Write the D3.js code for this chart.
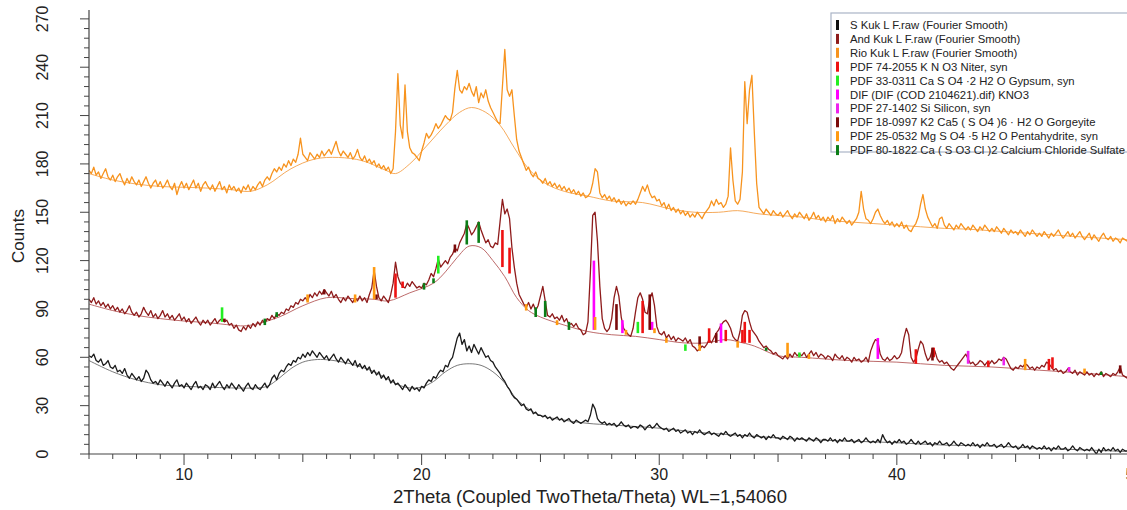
<!DOCTYPE html>
<html>
<head>
<meta charset="utf-8" />
<title>XRD Kuk L F</title>
<script src="https://d3js.org/d3.v7.min.js"></script>
<style>
  body { margin: 0; background: #fff; }
  svg text { font-family: "Liberation Sans", Arial, sans-serif; fill: #222; }
</style>
</head>
<body>
<svg id="chart"></svg>
<script>
// raw scans, 2theta from 6.0 in steps of 0.1
var thetaStart = 6, thetaStep = 0.1

var sKuk = [
  61, 60, 62, 58, 57, 59, 55, 56, 58, 54,
  53, 55, 51, 52, 50, 53, 49, 47, 50, 48,
  46, 48, 45, 47, 52, 50, 46, 44, 45, 43,
  46, 44, 42, 45, 43, 41, 44, 46, 42, 43,
  41, 44, 42, 40, 43, 45, 41, 42, 40, 43,
  42, 40, 44, 41, 43, 45, 42, 40, 43, 41,
  44, 42, 40, 43, 41, 39, 42, 44, 41, 40,
  43, 41, 40, 42, 44, 41, 43, 47, 49, 46,
  50, 52, 51, 54, 56, 55, 58, 57, 60, 59,
  62, 60, 63, 61, 64, 62, 60, 63, 61, 59,
  61, 58, 60, 62, 59, 57, 60, 58, 56, 59,
  57, 55, 58, 54, 56, 53, 55, 52, 54, 50,
  52, 49, 51, 47, 49, 46, 48, 44, 46, 43,
  44, 42, 40, 43, 41, 39, 42, 40, 41, 39,
  42, 41, 44, 46, 45, 48, 47, 50, 52, 51,
  55, 54, 58, 60, 66, 72, 75, 68, 71, 64,
  67, 63, 68, 65, 62, 66, 63, 60, 61, 58,
  57, 54, 52, 50, 47, 45, 42, 40, 37, 35,
  34, 32, 30, 31, 28, 27, 28, 25, 26, 24,
  24, 23, 24, 22, 23, 21, 22, 23, 21, 22,
  20, 21, 22, 20, 19, 21, 20, 19, 20, 21,
  20, 24, 31, 28, 22, 20, 19, 20, 18, 19,
  18, 19, 17, 18, 20, 18, 17, 18, 16, 17,
  17, 16, 18, 17, 15, 17, 18, 16, 17, 19,
  17, 16, 15, 16, 14, 15, 16, 14, 15, 13,
  14, 15, 13, 14, 12, 14, 13, 15, 13, 12,
  13, 14, 12, 13, 12, 11, 13, 12, 14, 12,
  11, 12, 13, 11, 12, 10, 12, 11, 13, 11,
  10, 12, 11, 10, 11, 9, 11, 10, 12, 10,
  10, 9, 11, 10, 9, 11, 10, 8, 10, 9,
  10, 9, 8, 10, 9, 8, 10, 9, 7, 9,
  9, 8, 10, 8, 9, 7, 9, 8, 10, 8,
  8, 9, 7, 8, 9, 7, 8, 10, 8, 7,
  8, 7, 9, 7, 12, 9, 7, 8, 6, 8,
  7, 9, 7, 8, 6, 7, 9, 7, 6, 8,
  6, 7, 8, 6, 7, 5, 7, 6, 8, 6,
  6, 7, 5, 6, 8, 6, 5, 7, 6, 5,
  6, 5, 7, 5, 6, 4, 6, 5, 7, 5,
  5, 6, 4, 5, 6, 4, 5, 7, 5, 4,
  5, 3, 4, 6, 4, 5, 3, 5, 4, 3,
  4, 3, 5, 3, 4, 2, 4, 3, 5, 3,
  3, 4, 2, 3, 5, 3, 2, 4, 3, 2,
  3, 2, 4, 2, 0, 3, 1, 4, 2, 3,
  2, 4, 2, 3, 1, 3, 2, 2
]

var andKuk = [
  96, 94, 97, 93, 95, 92, 94, 91, 93, 90,
  92, 89, 91, 88, 90, 87, 89, 92, 88, 86,
  88, 85, 87, 91, 88, 86, 89, 85, 87, 84,
  86, 89, 85, 87, 84, 86, 83, 85, 87, 83,
  85, 82, 84, 81, 83, 85, 82, 80, 83, 81,
  83, 80, 82, 84, 81, 83, 84, 82, 83, 80,
  81, 78, 80, 77, 76, 79, 77, 80, 78, 81,
  79, 82, 80, 83, 81, 84, 83, 86, 84, 87,
  86, 88, 87, 90, 89, 92, 91, 94, 93, 96,
  95, 97, 95, 99, 97, 100, 98, 101, 99, 102,
  100, 98, 101, 97, 99, 96, 94, 97, 95, 98,
  96, 94, 97, 95, 98, 95, 97, 94, 99, 103,
  114, 104, 97, 95, 98, 96, 94, 99, 106, 119,
  110, 106, 104, 103, 106, 104, 107, 105, 103, 104,
  103, 106, 105, 108, 112, 110, 115, 121, 116, 118,
  120, 118, 122, 124, 128, 126, 131, 134, 137, 143,
  140, 136, 138, 141, 144, 139, 135, 131, 133, 129,
  128, 131, 130, 144, 158, 149, 152, 146, 128, 116,
  106, 99, 96, 93, 91, 94, 90, 93, 89, 92,
  98, 104, 95, 86, 85, 87, 84, 85, 83, 86,
  82, 84, 80, 81, 79, 81, 78, 77, 74, 75,
  82, 112, 148, 150, 132, 104, 84, 78, 76, 78,
  84, 97, 104, 98, 85, 78, 76, 74, 73, 78,
  88, 97, 100, 96, 88, 87, 96, 100, 92, 79,
  75, 74, 76, 72, 74, 71, 73, 70, 72, 71,
  70, 72, 69, 71, 67, 66, 64, 65, 67, 66,
  68, 71, 69, 72, 75, 77, 80, 82, 83, 81,
  78, 73, 71, 70, 76, 86, 89, 88, 82, 77,
  75, 73, 70, 68, 66, 67, 65, 64, 62, 63,
  61, 60, 59, 61, 59, 62, 60, 63, 61, 62,
  61, 63, 60, 62, 64, 61, 63, 60, 62, 61,
  59, 61, 60, 58, 62, 60, 59, 61, 58, 60,
  59, 57, 60, 58, 59, 57, 58, 60, 57, 64,
  68, 71, 70, 62, 59, 58, 60, 58, 59, 61,
  59, 60, 63, 72, 78, 74, 60, 57, 59, 65,
  70, 68, 62, 58, 60, 65, 64, 59, 57, 58,
  56, 57, 55, 53, 52, 54, 56, 58, 60, 62,
  59, 56, 57, 55, 56, 58, 57, 55, 57, 56,
  58, 56, 57, 59, 58, 60, 59, 56, 53, 52,
  54, 53, 55, 54, 56, 55, 53, 54, 52, 54,
  53, 55, 54, 57, 56, 54, 52, 53, 51, 52,
  50, 51, 53, 51, 50, 52, 49, 51, 50, 49,
  51, 49, 50, 48, 50, 49, 51, 48, 50, 49,
  48, 50, 49, 51, 54, 49, 48, 47
]

var rioKuk = [
  176, 174, 178, 173, 175, 171, 174, 177, 172, 170,
  173, 169, 172, 174, 170, 167, 171, 168, 172, 169,
  167, 170, 166, 169, 172, 168, 165, 168, 170, 166,
  169, 165, 167, 170, 166, 164, 168, 161, 166, 169,
  165, 168, 164, 167, 170, 165, 168, 163, 167, 169,
  166, 164, 167, 163, 166, 169, 164, 166, 162, 167,
  164, 166, 163, 165, 162, 166, 164, 167, 163, 166,
  164, 167, 169, 166, 170, 172, 170, 174, 177, 175,
  178, 176, 180, 178, 182, 179, 183, 181, 186, 196,
  186, 184, 182, 187, 185, 183, 186, 184, 188, 185,
  187, 189, 186, 190, 194, 188, 185, 188, 186, 184,
  187, 183, 185, 189, 184, 182, 185, 181, 183, 180,
  182, 178, 180, 177, 179, 176, 178, 174, 177, 200,
  236, 204, 196, 229, 200, 190, 187, 186, 184, 182,
  188, 193, 199, 196, 198, 201, 205, 202, 204, 207,
  210, 208, 207, 212, 227, 238, 226, 224, 228, 226,
  230, 225, 222, 228, 218, 224, 221, 226, 219, 215,
  212, 209, 206, 205, 228, 251, 226, 222, 226, 210,
  195, 188, 184, 180, 176, 178, 174, 172, 175, 171,
  170, 168, 171, 167, 169, 166, 168, 165, 167, 164,
  166, 163, 165, 162, 164, 161, 163, 160, 162, 159,
  160, 162, 168, 177, 175, 162, 159, 161, 158, 160,
  157, 159, 156, 158, 155, 157, 154, 156, 155, 157,
  155, 158, 162, 166, 163, 167, 162, 159, 160, 157,
  158, 154, 156, 152, 155, 151, 153, 150, 152, 149,
  151, 148, 150, 147, 149, 147, 150, 148, 146, 149,
  151, 153, 157, 154, 158, 155, 156, 153, 155, 160,
  190, 170, 157, 155, 158, 175, 231, 205, 226, 235,
  200, 168, 153, 151, 149, 152, 150, 148, 151, 149,
  148, 150, 147, 149, 151, 148, 146, 149, 147, 150,
  148, 146, 149, 145, 147, 150, 146, 148, 145, 147,
  144, 147, 145, 148, 143, 146, 144, 147, 145, 143,
  145, 142, 144, 146, 150, 163, 152, 146, 145, 143,
  146, 150, 152, 148, 145, 143, 145, 142, 144, 141,
  143, 141, 144, 140, 142, 139, 138, 141, 143, 147,
  155, 161, 152, 147, 144, 141, 143, 140, 146, 147,
  142, 140, 143, 141, 139, 142, 140, 143, 141, 139,
  141, 139, 142, 140, 138, 141, 139, 142, 140, 138,
  140, 138, 141, 139, 137, 140, 138, 136, 139, 137,
  138, 136, 139, 137, 135, 138, 136, 139, 137, 135,
  137, 135, 138, 136, 134, 137, 135, 137, 139, 136,
  134, 136, 138, 135, 137, 134, 136, 138, 135, 133,
  135, 137, 133, 136, 134, 132, 135, 137, 134, 133,
  135, 132, 134, 133, 131, 134, 133, 132
]

// fitted backgrounds [2theta, counts]
var sKukBg = [[6,58],[7,51],[8,46],[9,43],[10,42],[11,41.5],[12,41],[13,41],[13.5,42],[14,47],[14.5,53],[15,57],[15.5,58.5],[16,58.5],[17,56],[18,51],[18.5,47],[19,43],[19.5,41],[20,41.5],[20.5,45],[21,51],[21.5,55],[22,56],[22.5,55],[23,51],[23.5,44],[24,34],[24.5,28],[25,24],[26,21],[27,19],[28,18],[30,16],[32,13],[34,11],[36,9],[38,8],[40,7],[42,5.5],[44,5],[46,3.5],[48,2.5],[49.7,1.5]]

var andKukBg = [[6,93],[7,89],[8,86],[9,84],[10,82.5],[11,81.5],[12,80],[12.5,79.5],[13,80.5],[14,85],[15,92],[16,97],[17,96.5],[18,96],[18.6,95],[19.5,100],[20.5,106],[21,113],[21.5,122],[22,129],[22.5,128],[23,120],[23.5,110],[24,97],[24.5,89],[25,85],[26,80],[27,76],[28,74],[29,73],[30,71],[31,69],[32,69],[32.8,71],[33.5,69],[34,67],[35,61],[36,60],[38,58],[40,57],[42,55],[44,54],[46,52],[48,50],[49.7,48]]

var rioKukBg = [[6,174],[7,170],[8,167.5],[9,166],[10,165.5],[11,165],[12,164],[12.8,163],[13.5,167],[14.5,177],[15.5,183],[16.5,184],[17.5,182],[18.5,176],[18.9,174],[19.5,180],[20.2,191],[21,204],[21.6,212],[22.1,215],[22.7,212],[23.3,204],[23.9,190],[24.5,177],[25.2,168],[26,163],[27,160],[28,157],[29.3,156],[30.5,152],[31.5,150],[32.5,150],[33.3,151],[34.2,149],[35,148],[36,147],[37,145],[38,144],[39,143],[40,142],[41,141],[42,140],[43,139.5],[44,138.5],[45,137.5],[46,136.5],[47,135.5],[48,134.5],[49.7,133]]

// phase sticks [2theta, low, high]
var niter = [[18.9,97,112],[19.2,103,107],[23.4,116,139],[23.7,112,128],[29.3,75,95],[32.1,69,78],[32.8,70,77],[33.5,69,77],[33.6,69,82],[33.8,69,77],[40.8,56,65],[41.55,60,66],[43.85,54,58],[46.4,52,59],[46.55,53,60]]
var gypsum = [[11.6,82,91],[20.7,112,123],[29.1,75,82],[31.1,64,68],[35.9,60,63]]
var kno3 = [[27.25,77,120],[28.45,75,83],[29.7,77,82],[32.6,69,81],[39.2,59,72]]
var silicon = [[43.0,56,64],[44.5,55,60],[47.25,51,54]]
var gorgeyite = [[11.7,82,84],[15.9,99,102],[18.1,96,99],[21.4,125,130],[28.2,77,93],[29.6,77,99],[31.7,67,73],[32.4,69,75],[41.5,58,66],[49.4,50,55]]
var pentahydrite = [[15.2,94,99],[17.2,94,99],[18.0,96,116],[24.4,89,93],[25.7,80,83],[27.3,77,85],[28.6,74,77],[29.8,75,78],[30.3,69,72],[31.7,64,68],[33.3,66,70],[35.4,60,69],[36.3,59,62],[45.4,52,59],[47.9,50,53]]
var caClSulfate = [[13.4,80,84],[13.9,85,88],[20.1,102,106],[20.5,106,109],[21.9,130,145],[22.4,131,144],[24.8,85,91],[25.2,85,95],[26.2,77,82],[34.5,64,66],[48.6,49,51]]

var legendLabels = [
  'S Kuk L F.raw (Fourier Smooth)',
  'And Kuk L F.raw (Fourier Smooth)',
  'Rio Kuk L F.raw (Fourier Smooth)',
  'PDF 74-2055 K N O3 Niter, syn',
  'PDF 33-0311 Ca S O4 \u00b72 H2 O Gypsum, syn',
  'DIF (DIF (COD 2104621).dif) KNO3',
  'PDF 27-1402 Si Silicon, syn',
  'PDF 18-0997 K2 Ca5 ( S O4 )6 \u00b7 H2 O Gorgeyite',
  'PDF 25-0532 Mg S O4 \u00b75 H2 O Pentahydrite, syn',
  'PDF 80-1822 Ca ( S O3 Cl )2 Calcium Chloride Sulfate'
]
var legendColors = ['#111111', '#8e1b1b', '#f7931e', '#ee1111', '#22ee22', '#ff00ff', '#ee22ee', '#7a0a0a', '#ff9a10', '#0b7d16']

var xTicks = d3.range(6, 50, 1)
var yTicks = d3.range(0, 276, 6)

var W = 1127, H = 510
var mLeft = 89, mRight = 1127, mTop = 10, mBottom = 454

var svg = d3.select('#chart').attr('width', W).attr('height', H)

var x = d3.scaleLinear().domain([6, 6 + (mRight - mLeft) / 23.76]).range([mLeft, mRight])
var y = d3.scaleLinear().domain([0, 275.5]).range([mBottom, mTop])

svg.append('clipPath').attr('id', 'plot')
  .append('rect').attr('x', mLeft).attr('y', 0).attr('width', mRight - mLeft).attr('height', mBottom)

var plot = svg.append('g').attr('clip-path', 'url(#plot)')

var rawLine = d3.line()
  .x(function (d, i) { return x(thetaStart + i * thetaStep) })
  .y(function (d) { return y(d) })

var bgLine = d3.line()
  .x(function (d) { return x(d[0]) })
  .y(function (d) { return y(d[1]) })
  .curve(d3.curveCatmullRom)

var scans = [
  { raw: rioKuk, bg: rioKukBg, color: '#f7931e', bgColor: '#f4a04a' },
  { raw: andKuk, bg: andKukBg, color: '#8e1b1b', bgColor: '#b65a5a' },
  { raw: sKuk, bg: sKukBg, color: '#1a1a1a', bgColor: '#6a6a6a' }
]

scans.forEach(function (s) {
  plot.append('path').attr('d', bgLine(s.bg))
    .attr('fill', 'none').attr('stroke', s.bgColor).attr('stroke-width', 0.9)
  plot.append('path').attr('d', rawLine(s.raw))
    .attr('fill', 'none').attr('stroke', s.color).attr('stroke-width', 1.3)
    .attr('stroke-linejoin', 'round')
})

var phases = [
  { sticks: niter, color: legendColors[3] },
  { sticks: gypsum, color: legendColors[4] },
  { sticks: kno3, color: legendColors[5] },
  { sticks: silicon, color: legendColors[6] },
  { sticks: gorgeyite, color: legendColors[7] },
  { sticks: pentahydrite, color: legendColors[8] },
  { sticks: caClSulfate, color: legendColors[9] }
]

phases.forEach(function (p) {
  plot.selectAll(null).data(p.sticks).enter().append('line')
    .attr('x1', function (d) { return x(d[0]) })
    .attr('x2', function (d) { return x(d[0]) })
    .attr('y1', function (d) { return y(d[1]) })
    .attr('y2', function (d) { return y(d[2]) })
    .attr('stroke', p.color).attr('stroke-width', 2.6)
})

// axes
var axisColor = '#444'
svg.append('line').attr('x1', mLeft).attr('x2', mLeft).attr('y1', mTop).attr('y2', mBottom)
  .attr('stroke', axisColor).attr('stroke-width', 1.2)
svg.append('line').attr('x1', mLeft).attr('x2', mRight).attr('y1', mBottom).attr('y2', mBottom)
  .attr('stroke', axisColor).attr('stroke-width', 1.2)

svg.selectAll('.xt').data(xTicks).enter().append('line')
  .attr('x1', function (d) { return x(d) }).attr('x2', function (d) { return x(d) })
  .attr('y1', mBottom)
  .attr('y2', function (d) { return mBottom + (d % 10 == 0 ? 11 : d % 5 == 0 ? 8 : 5) })
  .attr('stroke', axisColor).attr('stroke-width', 1)

svg.selectAll('.xl').data(xTicks.filter(function (d) { return d % 10 == 0 }).concat([50])).enter().append('text')
  .attr('x', function (d) { return x(d) }).attr('y', 480)
  .attr('text-anchor', 'middle').style('font-size', '16px')
  .text(function (d) { return d })

svg.selectAll('.yt').data(yTicks).enter().append('line')
  .attr('y1', function (d) { return y(d) }).attr('y2', function (d) { return y(d) })
  .attr('x1', mLeft)
  .attr('x2', function (d) { return mLeft - (d % 30 == 0 ? 9 : 5) })
  .attr('stroke', axisColor).attr('stroke-width', 1)

svg.selectAll('.yl').data(yTicks.filter(function (d) { return d % 30 == 0 })).enter().append('text')
  .attr('transform', function (d) { return 'translate(' + 48 + ',' + y(d) + ') rotate(-90)' })
  .attr('text-anchor', 'middle').style('font-size', '16px')
  .text(function (d) { return d })

svg.append('text')
  .attr('transform', 'translate(24,236) rotate(-90)')
  .attr('text-anchor', 'middle').style('font-size', '17px')
  .text('Counts')

svg.append('text')
  .attr('x', 590).attr('y', 503)
  .attr('text-anchor', 'middle').style('font-size', '18px')
  .attr('textLength', 394).attr('lengthAdjust', 'spacingAndGlyphs')
  .text('2Theta (Coupled TwoTheta/Theta) WL=1,54060')

// legend
var lg = svg.append('g').attr('transform', 'translate(831,13)')
lg.append('rect').attr('width', 320).attr('height', 139)
  .attr('fill', '#fff').attr('stroke', '#aab4c6').attr('stroke-width', 1.2)

legendLabels.forEach(function (t, i) {
  var row = lg.append('g').attr('transform', 'translate(0,' + (6 + i * 13.9) + ')')
  row.append('rect').attr('x', 5).attr('y', 1).attr('width', 3).attr('height', 10)
    .attr('fill', legendColors[i])
  row.append('text').attr('x', 19).attr('y', 10).style('font-size', '11.3px')
    .text(t)
})
</script>
</body>
</html>
